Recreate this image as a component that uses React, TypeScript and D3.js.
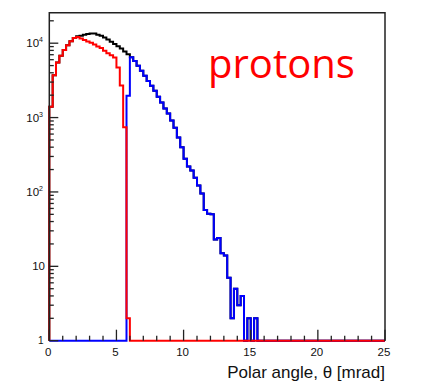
import React from "react";
import * as d3 from "d3";

const W = 442;
const H = 383;

const binWidth = 0.25; // mrad
const xTickMajor = [0, 5, 10, 15, 20, 25];
const xTickMinor = [1, 2, 3, 4, 6, 7, 8, 9, 11, 12, 13, 14, 16, 17, 18, 19, 21, 22, 23, 24];
const yDecades = [1, 10, 100, 1000, 10000];
const yLabelExp = ["", "", "2", "3", "4"];
const yLabelBase = ["1", "10", "10", "10", "10"];

// counts per 0.25 mrad bin, 0..25 mrad (100 bins)
const redCounts = [
  1400, 3720, 5500, 6760, 8130, 9390, 10640, 11760, 12160, 11600,
  11070, 10570, 10100, 9640, 9060, 8650, 7890, 7300, 6900, 6410,
  4710, 2690, 740, 2, 0, 0, 0, 0, 0, 0,
  0, 0, 0, 0, 0, 0, 0, 0, 0, 0,
  0, 0, 0, 0, 0, 0, 0, 0, 0, 0,
  0, 0, 0, 0, 0, 0, 0, 0, 0, 0,
  0, 0, 0, 0, 0, 0, 0, 0, 0, 0,
  0, 0, 0, 0, 0, 0, 0, 0, 0, 0,
  0, 0, 0, 0, 0, 0, 0, 0, 0, 0,
  0, 0, 0, 0, 0, 0, 0, 0, 0, 0,
];

const blueCounts = [
  0, 0, 0, 0, 0, 0, 0, 0, 0, 0,
  0, 0, 0, 0, 0, 0, 0, 0, 0, 0,
  0, 0, 0, 1960, 6450, 5760, 4990, 4260, 3650, 3110,
  2680, 2290, 1900, 1590, 1320, 1130, 910, 730, 540, 400,
  280, 220, 195, 155, 122, 95, 57, 51, 50, 23,
  24, 15, 14, 7, 2, 5, 3, 4, 0, 2,
  0, 2, 0, 0, 0, 0, 0, 0, 0, 0,
  0, 0, 0, 0, 0, 0, 0, 0, 0, 0,
  0, 0, 0, 0, 0, 0, 0, 0, 0, 0,
  0, 0, 0, 0, 0, 0, 0, 0, 0, 0,
];

const blackCounts = [
  1400, 3720, 5500, 6760, 8130, 9390, 10640, 11760, 12400, 12590,
  13030, 13340, 13490, 13490, 13030, 12590, 11890, 11220, 10470, 9770,
  9120, 8510, 7760, 7080, 6450, 5760, 4990, 4260, 3650, 3110,
  2680, 2290, 1900, 1590, 1320, 1130, 910, 730, 540, 400,
  280, 220, 195, 155, 122, 95, 57, 51, 50, 23,
  24, 15, 14, 7, 2, 5, 3, 4, 0, 2,
  0, 2, 0, 0, 0, 0, 0, 0, 0, 0,
  0, 0, 0, 0, 0, 0, 0, 0, 0, 0,
  0, 0, 0, 0, 0, 0, 0, 0, 0, 0,
  0, 0, 0, 0, 0, 0, 0, 0, 0, 0,
];

const x = d3.scaleLinear().domain([0, 25]).range([49.3, 385]);
const y = d3.scaleLog().domain([1, Math.pow(10, 4.41)]).range([340.7, 12.7]);

function histPath(values: number[]): string {
  const y0 = y(1);
  let p = `M${x(0)},${y0}`;
  values.forEach((v, i) => {
    const yy = y(Math.max(v, 1));
    p += `V${yy}H${x((i + 1) * binWidth)}`;
  });
  p += `V${y0}`;
  return p;
}

export default function App() {
  const yMinor: number[] = [];
  yDecades.forEach((d) => {
    for (let m = 2; m <= 9; m++) {
      const v = m * d;
      if (v < y.domain()[1]) yMinor.push(v);
    }
  });
  const left = x(0);
  const right = x(25);
  const top = y.range()[1];
  const bottom = y.range()[0];
  const font = "'Liberation Sans', Arial, Helvetica, sans-serif";
  return (
    <div style={{ position: "fixed", left: 0, top: 0, width: W, height: H, background: "#fff" }}>
      <svg width={W} height={H} viewBox={`0 0 ${W} ${H}`}>
        <rect x={0} y={0} width={W} height={H} fill="#fff" />
        {/* histograms */}
        <path d={histPath(blackCounts)} fill="none" stroke="#000" strokeWidth={2} />
        <path d={histPath(blueCounts)} fill="none" stroke="#0000ff" strokeWidth={2} />
        <path d={histPath(redCounts)} fill="none" stroke="#ff0000" strokeWidth={2} />
        {/* frame */}
        <path
          d={`M${left},${bottom}V${top}H${right}V${bottom}`}
          fill="none"
          stroke="#222"
          strokeWidth={1.5}
        />
        {/* x ticks */}
        {xTickMajor.map((t) => (
          <line key={"xM" + t} x1={x(t)} x2={x(t)} y1={bottom} y2={bottom - 11} stroke="#222" strokeWidth={1.3} />
        ))}
        {xTickMinor.map((t) => (
          <line key={"xm" + t} x1={x(t)} x2={x(t)} y1={bottom} y2={bottom - 5} stroke="#222" strokeWidth={1.3} />
        ))}
        {/* y ticks */}
        {yDecades.map((t) => (
          <line key={"yM" + t} x1={left} x2={left + 9} y1={y(t)} y2={y(t)} stroke="#222" strokeWidth={1.3} />
        ))}
        {yMinor.map((t) => (
          <line key={"ym" + t} x1={left} x2={left + 4.5} y1={y(t)} y2={y(t)} stroke="#222" strokeWidth={1.3} />
        ))}
        {/* x tick labels */}
        {xTickMajor.map((t) => (
          <text key={"xl" + t} x={x(t) - 1} y={355.5} fontFamily={font} fontSize={11.5} textAnchor="middle" fill="#111">
            {t}
          </text>
        ))}
        {/* y tick labels */}
        {yDecades.map((t, i) =>
          i === 0 ? (
            <text key={"yl" + t} x={43.5} y={343.5} fontFamily={font} fontSize={10} textAnchor="end" fill="#111">
              1
            </text>
          ) : (
            <text key={"yl" + t} x={yLabelExp[i] ? 43 : 45} y={y(t) + 4} fontFamily={font} fontSize={11.5} textAnchor="end" fill="#111">
              {yLabelBase[i]}
              {yLabelExp[i] ? (
                <tspan fontSize={7} dy={-5}>
                  {yLabelExp[i]}
                </tspan>
              ) : null}
            </text>
          )
        )}
        {/* axis title */}
        <text x={385} y={378} fontFamily={font} fontSize={17} textAnchor="end" fill="#111">
          Polar angle, θ [mrad]
        </text>
        {/* annotation */}
        <text x={208} y={78.3} fontFamily="'Open Sans', 'Noto Sans', sans-serif" fontSize={40} fill="#ff0000">
          protons
        </text>
      </svg>
    </div>
  );
}
